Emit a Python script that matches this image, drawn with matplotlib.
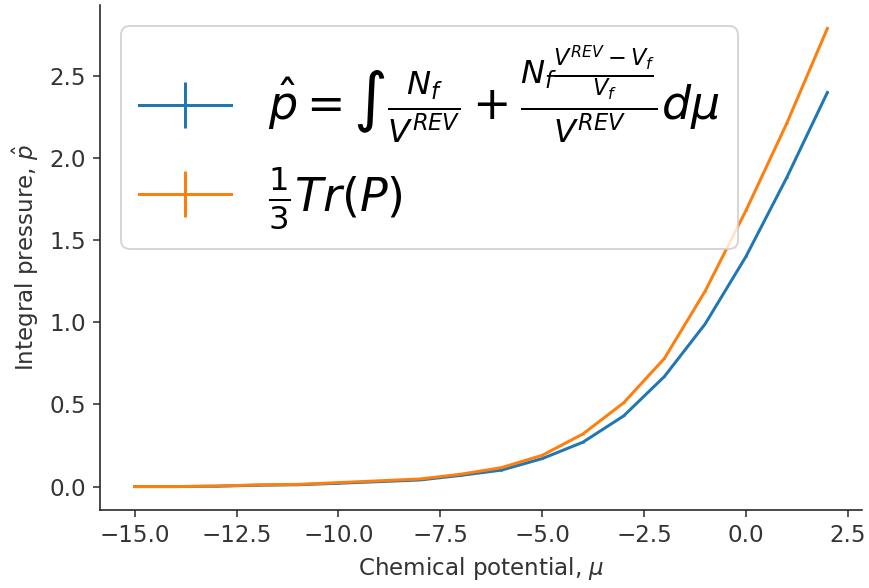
import numpy as np
import matplotlib
matplotlib.use("Agg")
import matplotlib.pyplot as plt

# chemical potential values
mu = [-15, -14, -13, -12, -11, -10, -9, -8, -7, -6, -5, -4, -3, -2, -1, 0, 1, 2]

# integral pressure from the N_f / V^REV integral
p_integral = [0.0, 0.0, 0.002, 0.008, 0.011, 0.02, 0.03, 0.04, 0.068, 0.10, 0.17,
              0.27, 0.43, 0.67, 0.99, 1.40, 1.88, 2.40]
# one third of the trace of the pressure tensor
p_trace = [0.0, 0.0, 0.003, 0.01, 0.013, 0.024, 0.035, 0.046, 0.075, 0.115, 0.19,
           0.32, 0.51, 0.78, 1.19, 1.68, 2.21, 2.79]

# tiny error bars (invisible in the plot, but give the + legend handle)
err_integral = [0.003] * len(mu)
err_trace = [0.003] * len(mu)

label_integral = (r'$\hat{p} = \int \frac{N_f}{V^{REV}} + '
                  r'\frac{N_f\frac{V^{REV}-V_f}{V_f}}{V^{REV}} d\mu$')
label_trace = r'$\frac{1}{3}Tr(P)$'

plt.rcParams['font.size'] = 11.5
plt.rcParams['xtick.color'] = '#333333'
plt.rcParams['ytick.color'] = '#333333'

fig, ax = plt.subplots(figsize=(869 / 144, 588 / 144), dpi=144)
fig.subplots_adjust(left=100 / 869, right=862 / 869, top=1 - 5 / 588, bottom=1 - 510 / 588)

ax.errorbar(mu, p_integral, yerr=err_integral, label=label_integral)
ax.errorbar(mu, p_trace, yerr=err_trace, label=label_trace)

ax.set_xlabel(r'Chemical potential, $\mu$', color='#333333')
ax.set_ylabel(r'Integral pressure, $\hat{p}$', color='#333333')
ax.tick_params(colors='#333333')
for s in ['left', 'bottom']:
    ax.spines[s].set_color('#222222')

ax.spines['top'].set_visible(False)
ax.spines['right'].set_visible(False)

ax.legend(loc='upper left', fontsize=23, labelspacing=0.4, borderaxespad=0.45)

fig.savefig("out.png", dpi=144)
